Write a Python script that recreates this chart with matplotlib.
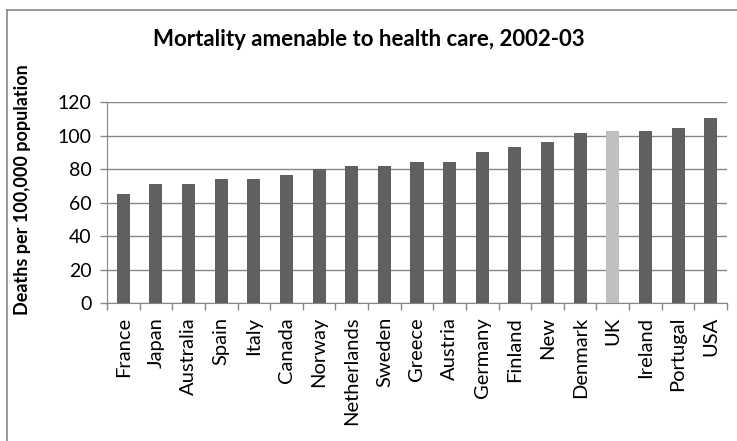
import matplotlib.pyplot as plt
from matplotlib.lines import Line2D
import numpy as np

plt.rcParams['font.family'] = ['Lato', 'DejaVu Sans']

# data (deaths per 100,000 population)
countries = ['France', 'Japan', 'Australia', 'Spain', 'Italy', 'Canada', 'Norway',
             'Netherlands', 'Sweden', 'Greece', 'Austria', 'Germany', 'Finland',
             'New', 'Denmark', 'UK', 'Ireland', 'Portugal', 'USA']
deaths = [64.8, 71.2, 71.3, 74.2, 74.1, 76.6, 80.0, 81.9, 82.0, 84.3, 84.4,
          90.1, 93.1, 96.0, 101.3, 102.6, 102.7, 104.4, 110.2]
highlight = 'UK'
yticks = [0, 20, 40, 60, 80, 100, 120]

fig = plt.figure(figsize=(7.37, 4.41), dpi=100)
ax = fig.add_axes([0.1452, 0.3129, 0.8412, 0.4558])

x = np.arange(len(countries))
colors = ['#bfbfbf' if c == highlight else '#606060' for c in countries]
ax.bar(x, deaths, width=0.4, color=colors, zorder=3)

ax.set_xlim(-0.5, len(countries) - 0.5)
ax.set_ylim(0, 120)
ax.set_yticks(yticks)
ax.yaxis.grid(True, color='#868686', linewidth=1, zorder=0)

ax.set_xticks(x)
ax.set_xticklabels(countries, rotation=90, fontsize=14.5, va='top', ha='center')
ax.set_xticks(np.arange(-0.5, len(countries)), minor=True)
ax.tick_params(axis='x', which='major', length=0, pad=10)
ax.tick_params(axis='x', which='minor', length=5, color='#868686', width=1)
ax.tick_params(axis='y', length=5, color='#868686', width=1, labelsize=14, pad=6)

for side in ['top', 'right']:
    ax.spines[side].set_visible(False)
for side in ['left', 'bottom']:
    ax.spines[side].set_color('#868686')

fig.text(0.5, 0.91, 'Mortality amenable to health care, 2002-03',
         ha='center', va='center', fontsize=16, fontweight='bold')
fig.text(0.030, 0.569, 'Deaths per 100,000 population', rotation=90,
         ha='center', va='center', fontsize=13, fontweight='bold')

# chart area border (top and left visible in the crop)
fig.add_artist(Line2D([7 / 737, 1.0], [1 - 10 / 441] * 2, color='#888888', lw=1.2))
fig.add_artist(Line2D([7 / 737] * 2, [0.0, 1 - 10 / 441], color='#888888', lw=1.2))

fig.savefig('out.png', dpi=100)
